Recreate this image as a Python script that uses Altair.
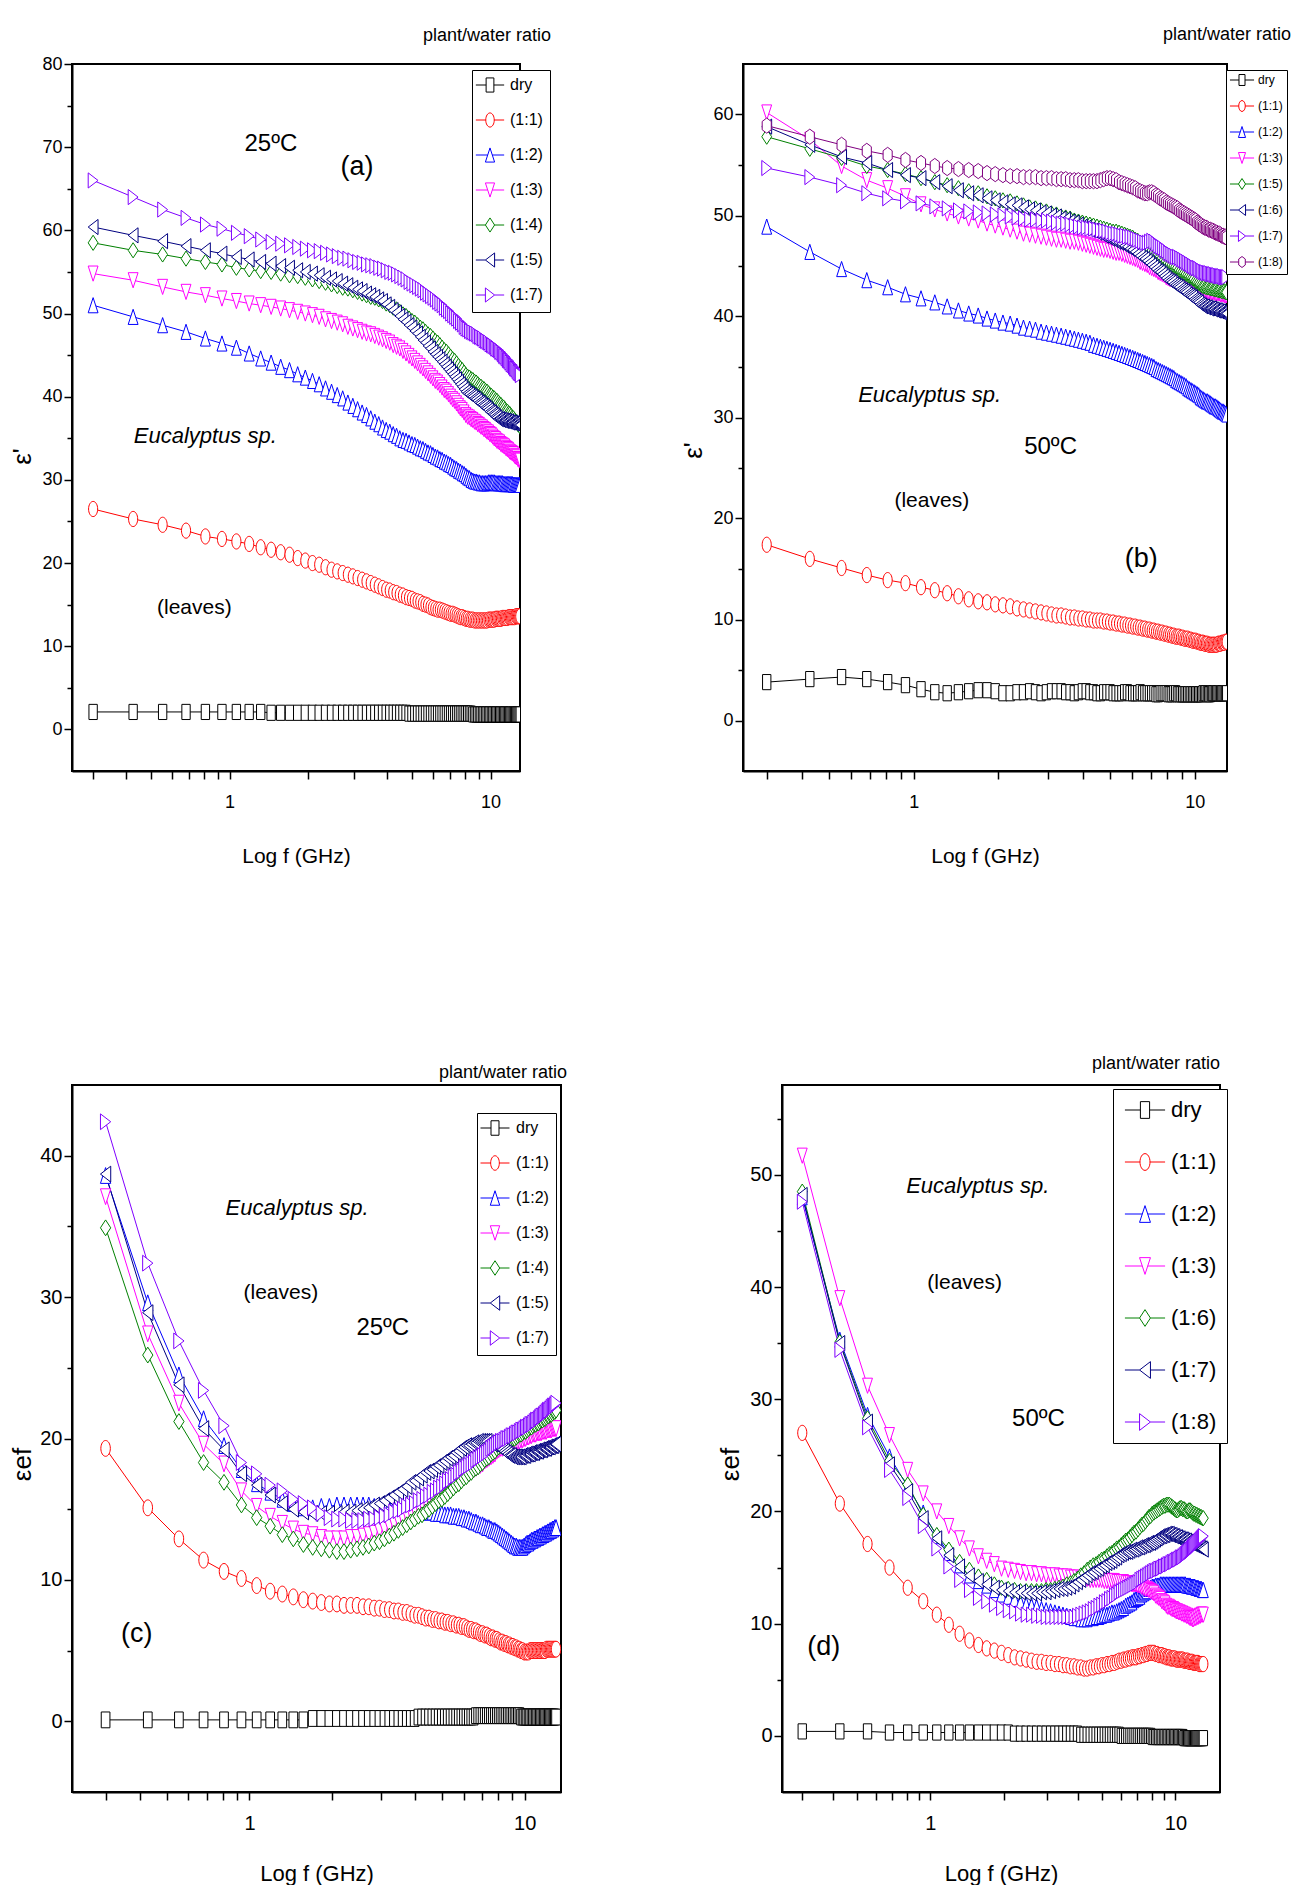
import altair as alt
import pandas as pd

FONT = "Liberation Sans Narrow, Arial Narrow, Liberation Sans, Arial, sans-serif"

# ---------------- frequency sweep (GHz) ----------------
FREQ = [
    0.300, 0.427, 0.554, 0.681, 0.808, 0.935, 1.062, 1.189, 1.316, 1.443,
    1.570, 1.697, 1.824, 1.951, 2.078, 2.205, 2.332, 2.459, 2.586, 2.713,
    2.840, 2.967, 3.094, 3.221, 3.348, 3.475, 3.602, 3.729, 3.856, 3.983,
    4.110, 4.237, 4.364, 4.491, 4.618, 4.745, 4.872, 4.999, 5.126, 5.253,
    5.380, 5.507, 5.634, 5.761, 5.888, 6.015, 6.142, 6.269, 6.396, 6.523,
    6.650, 6.777, 6.904, 7.031, 7.158, 7.285, 7.412, 7.539, 7.666, 7.793,
    7.920, 8.047, 8.174, 8.301, 8.428, 8.555, 8.682, 8.809, 8.936, 9.063,
    9.190, 9.317, 9.444, 9.571, 9.698, 9.825, 9.952, 10.079, 10.206, 10.333,
    10.460, 10.587, 10.714, 10.841, 10.968, 11.095, 11.222, 11.349, 11.476, 11.603,
    11.730, 11.857, 11.984, 12.111, 12.238, 12.365, 12.492, 12.619, 12.746, 12.873,
    13.000]

XTICKS = [0.3, 0.4, 0.5, 0.6, 0.7, 0.8, 0.9, 1, 2, 3, 4, 5, 6, 7, 8, 9, 10]

# ---------------- panel (a): eps' at 25 C ----------------
A_NAMES = ["dry", "(1:1)", "(1:2)", "(1:3)", "(1:4)", "(1:5)", "(1:7)"]
A_DRY = [
    2.1, 2.1, 2.1, 2.1, 2.1, 2.1, 2.1, 2.1, 2.1, 2.0,
    2.0, 2.0, 2.0, 2.0, 2.0, 2.0, 2.0, 2.0, 2.0, 2.0,
    2.0, 2.0, 2.0, 2.0, 2.0, 2.0, 2.0, 2.0, 2.0, 2.0,
    2.0, 2.0, 2.0, 2.0, 2.0, 2.0, 1.9, 1.9, 1.9, 1.9,
    1.9, 1.9, 1.9, 1.9, 1.9, 1.9, 1.9, 1.9, 1.9, 1.9,
    1.9, 1.9, 1.9, 1.9, 1.9, 1.9, 1.9, 1.9, 1.9, 1.9,
    1.9, 1.9, 1.9, 1.9, 1.9, 1.8, 1.8, 1.8, 1.8, 1.8,
    1.8, 1.8, 1.8, 1.8, 1.8, 1.8, 1.8, 1.8, 1.8, 1.8,
    1.8, 1.8, 1.8, 1.8, 1.8, 1.8, 1.8, 1.8, 1.8, 1.8,
    1.8, 1.8, 1.8, 1.8, 1.8, 1.8, 1.8, 1.8, 1.8, 1.8,
    1.8]
A_11 = [
    26.5, 25.3, 24.6, 23.9, 23.2, 22.9, 22.6, 22.3, 21.9, 21.6,
    21.3, 21.0, 20.6, 20.3, 20.0, 19.8, 19.5, 19.2, 19.0, 18.8,
    18.6, 18.4, 18.2, 18.0, 17.8, 17.6, 17.4, 17.2, 17.0, 16.8,
    16.7, 16.5, 16.4, 16.2, 16.1, 15.9, 15.8, 15.7, 15.5, 15.4,
    15.3, 15.1, 15.0, 14.9, 14.7, 14.6, 14.5, 14.4, 14.4, 14.3,
    14.2, 14.1, 14.0, 13.9, 13.9, 13.8, 13.7, 13.6, 13.5, 13.5,
    13.4, 13.3, 13.3, 13.2, 13.2, 13.2, 13.1, 13.1, 13.1, 13.1,
    13.1, 13.1, 13.1, 13.1, 13.1, 13.2, 13.2, 13.2, 13.2, 13.2,
    13.3, 13.3, 13.3, 13.3, 13.3, 13.4, 13.4, 13.4, 13.4, 13.4,
    13.5, 13.5, 13.5, 13.5, 13.5, 13.5, 13.6, 13.6, 13.6, 13.6,
    13.6]
A_12 = [
    51.0, 49.6, 48.6, 47.8, 47.0, 46.4, 45.9, 45.2, 44.6, 44.1,
    43.6, 43.2, 42.7, 42.3, 41.9, 41.5, 41.0, 40.6, 40.2, 39.8,
    39.3, 38.9, 38.5, 38.1, 37.8, 37.4, 37.0, 36.7, 36.3, 36.0,
    35.8, 35.5, 35.3, 35.0, 34.8, 34.7, 34.5, 34.3, 34.2, 34.0,
    33.8, 33.7, 33.5, 33.3, 33.2, 33.0, 32.8, 32.7, 32.5, 32.4,
    32.2, 32.1, 31.9, 31.8, 31.6, 31.4, 31.3, 31.1, 31.0, 30.8,
    30.7, 30.5, 30.3, 30.2, 30.0, 29.9, 29.8, 29.8, 29.7, 29.7,
    29.6, 29.6, 29.6, 29.6, 29.6, 29.7, 29.7, 29.7, 29.7, 29.7,
    29.6, 29.6, 29.6, 29.6, 29.6, 29.6, 29.5, 29.5, 29.5, 29.5,
    29.5, 29.5, 29.5, 29.5, 29.4, 29.4, 29.4, 29.4, 29.4, 29.4,
    29.4]
A_13 = [
    54.8, 54.0, 53.2, 52.6, 52.2, 51.8, 51.5, 51.2, 51.0, 50.8,
    50.6, 50.4, 50.2, 50.0, 49.8, 49.6, 49.3, 49.1, 48.9, 48.7,
    48.4, 48.2, 48.0, 47.8, 47.6, 47.5, 47.3, 47.1, 46.9, 46.7,
    46.5, 46.2, 46.0, 45.8, 45.5, 45.2, 44.9, 44.6, 44.3, 44.0,
    43.7, 43.4, 43.1, 42.8, 42.5, 42.2, 41.9, 41.7, 41.4, 41.1,
    40.8, 40.6, 40.3, 40.0, 39.7, 39.5, 39.2, 38.9, 38.6, 38.4,
    38.1, 37.8, 37.6, 37.5, 37.3, 37.2, 37.0, 36.9, 36.7, 36.6,
    36.4, 36.3, 36.1, 36.0, 35.8, 35.7, 35.5, 35.4, 35.2, 35.0,
    34.9, 34.7, 34.6, 34.5, 34.3, 34.2, 34.1, 34.0, 33.8, 33.7,
    33.6, 33.4, 33.3, 33.2, 33.1, 32.9, 32.8, 32.7, 32.5, 32.4,
    32.3]
A_14 = [
    58.5, 57.6, 57.1, 56.6, 56.2, 55.9, 55.5, 55.3, 55.1, 55.0,
    54.8, 54.6, 54.5, 54.3, 54.1, 53.9, 53.7, 53.5, 53.3, 53.1,
    53.0, 52.8, 52.6, 52.4, 52.2, 52.0, 51.9, 51.7, 51.5, 51.2,
    51.0, 50.7, 50.5, 50.2, 49.9, 49.7, 49.4, 49.1, 48.9, 48.6,
    48.3, 48.1, 47.8, 47.5, 47.3, 47.0, 46.7, 46.5, 46.2, 45.9,
    45.6, 45.4, 45.1, 44.8, 44.5, 44.3, 44.0, 43.7, 43.4, 43.2,
    42.9, 42.6, 42.4, 42.3, 42.1, 42.0, 41.8, 41.7, 41.5, 41.3,
    41.2, 41.0, 40.9, 40.7, 40.6, 40.4, 40.2, 40.1, 39.9, 39.8,
    39.6, 39.5, 39.3, 39.1, 39.0, 38.8, 38.7, 38.5, 38.3, 38.2,
    38.0, 37.9, 37.7, 37.5, 37.4, 37.2, 37.0, 36.9, 36.7, 36.6,
    36.4]
A_15 = [
    60.4, 59.4, 58.7, 58.1, 57.6, 57.2, 56.8, 56.5, 56.2, 56.0,
    55.7, 55.5, 55.2, 55.0, 54.8, 54.6, 54.3, 54.1, 53.9, 53.6,
    53.4, 53.1, 52.9, 52.7, 52.4, 52.2, 52.0, 51.7, 51.5, 51.1,
    50.8, 50.4, 50.1, 49.7, 49.3, 49.0, 48.6, 48.3, 47.9, 47.6,
    47.2, 46.8, 46.5, 46.1, 45.8, 45.4, 45.1, 44.8, 44.5, 44.2,
    43.9, 43.6, 43.3, 43.0, 42.7, 42.4, 42.1, 41.8, 41.5, 41.2,
    40.9, 40.6, 40.4, 40.3, 40.1, 40.0, 39.8, 39.7, 39.5, 39.3,
    39.2, 39.0, 38.9, 38.7, 38.6, 38.4, 38.2, 38.1, 37.9, 37.8,
    37.6, 37.5, 37.3, 37.3, 37.2, 37.2, 37.1, 37.1, 37.1, 37.0,
    37.0, 36.9, 36.9, 36.9, 36.8, 36.8, 36.8, 36.7, 36.7, 36.6,
    36.6]
A_17 = [
    66.0, 64.0, 62.5, 61.5, 60.7, 60.2, 59.7, 59.3, 58.9, 58.6,
    58.4, 58.2, 58.0, 57.8, 57.6, 57.5, 57.3, 57.1, 56.9, 56.7,
    56.6, 56.4, 56.2, 56.1, 55.9, 55.8, 55.7, 55.5, 55.4, 55.2,
    55.0, 54.9, 54.7, 54.5, 54.3, 54.1, 53.8, 53.6, 53.4, 53.2,
    53.0, 52.8, 52.5, 52.3, 52.1, 51.9, 51.7, 51.4, 51.2, 51.0,
    50.7, 50.5, 50.3, 50.0, 49.8, 49.6, 49.4, 49.1, 48.9, 48.7,
    48.4, 48.2, 48.1, 47.9, 47.8, 47.7, 47.6, 47.5, 47.3, 47.2,
    47.1, 47.0, 46.8, 46.7, 46.6, 46.5, 46.3, 46.2, 46.1, 46.0,
    45.8, 45.7, 45.6, 45.4, 45.3, 45.1, 44.9, 44.8, 44.6, 44.4,
    44.3, 44.1, 43.9, 43.8, 43.6, 43.4, 43.3, 43.1, 42.9, 42.8,
    42.6]

# ---------------- panel (b): eps' at 50 C ----------------
B_NAMES = ["dry", "(1:1)", "(1:2)", "(1:3)", "(1:5)", "(1:6)", "(1:7)", "(1:8)"]
B_DRY = [
    3.8, 4.1, 4.3, 4.1, 3.8, 3.5, 3.1, 2.8, 2.7, 2.8,
    2.9, 3.0, 3.0, 2.9, 2.7, 2.7, 2.8, 2.8, 2.9, 2.8,
    2.7, 2.8, 2.9, 2.9, 2.9, 2.8, 2.8, 2.7, 2.8, 2.9,
    2.9, 2.8, 2.8, 2.7, 2.7, 2.8, 2.8, 2.8, 2.7, 2.7,
    2.7, 2.7, 2.8, 2.8, 2.7, 2.7, 2.7, 2.7, 2.8, 2.7,
    2.7, 2.7, 2.7, 2.7, 2.7, 2.6, 2.6, 2.7, 2.7, 2.7,
    2.7, 2.6, 2.6, 2.6, 2.7, 2.7, 2.6, 2.6, 2.6, 2.6,
    2.6, 2.6, 2.6, 2.6, 2.6, 2.6, 2.6, 2.6, 2.6, 2.6,
    2.6, 2.6, 2.7, 2.7, 2.7, 2.6, 2.6, 2.6, 2.7, 2.7,
    2.7, 2.7, 2.7, 2.7, 2.7, 2.7, 2.7, 2.7, 2.7, 2.7,
    2.7]
B_11 = [
    17.4, 16.0, 15.1, 14.4, 13.9, 13.6, 13.2, 12.9, 12.6, 12.3,
    12.0, 11.8, 11.7, 11.5, 11.4, 11.3, 11.1, 11.0, 10.9, 10.8,
    10.7, 10.6, 10.5, 10.4, 10.4, 10.3, 10.2, 10.2, 10.1, 10.1,
    10.0, 10.0, 9.9, 9.9, 9.9, 9.8, 9.8, 9.7, 9.7, 9.6,
    9.6, 9.5, 9.5, 9.4, 9.4, 9.3, 9.3, 9.2, 9.2, 9.1,
    9.1, 9.0, 9.0, 8.9, 8.9, 8.8, 8.8, 8.7, 8.7, 8.6,
    8.6, 8.5, 8.5, 8.4, 8.4, 8.3, 8.3, 8.3, 8.2, 8.2,
    8.1, 8.1, 8.1, 8.0, 8.0, 7.9, 7.9, 7.9, 7.8, 7.8,
    7.7, 7.7, 7.7, 7.6, 7.6, 7.6, 7.5, 7.5, 7.5, 7.5,
    7.5, 7.5, 7.5, 7.6, 7.6, 7.6, 7.7, 7.7, 7.7, 7.8,
    7.8]
B_12 = [
    48.9, 46.4, 44.7, 43.6, 42.9, 42.2, 41.8, 41.4, 41.0, 40.6,
    40.3, 40.1, 39.8, 39.6, 39.4, 39.3, 39.1, 38.9, 38.8, 38.7,
    38.5, 38.4, 38.3, 38.2, 38.1, 38.0, 37.9, 37.8, 37.7, 37.6,
    37.5, 37.4, 37.2, 37.1, 37.0, 36.9, 36.8, 36.7, 36.6, 36.5,
    36.4, 36.3, 36.2, 36.1, 36.0, 35.9, 35.8, 35.7, 35.6, 35.5,
    35.4, 35.3, 35.2, 35.1, 35.0, 34.8, 34.7, 34.6, 34.5, 34.4,
    34.3, 34.2, 34.1, 34.0, 33.9, 33.7, 33.6, 33.5, 33.4, 33.3,
    33.2, 33.1, 32.9, 32.8, 32.7, 32.6, 32.5, 32.4, 32.3, 32.2,
    32.0, 31.9, 31.8, 31.7, 31.6, 31.6, 31.5, 31.4, 31.3, 31.2,
    31.1, 31.1, 31.0, 30.9, 30.8, 30.7, 30.6, 30.6, 30.5, 30.4,
    30.3]
B_13 = [
    60.2, 57.5, 54.9, 53.5, 52.7, 51.9, 51.1, 50.6, 50.2, 49.9,
    49.7, 49.5, 49.2, 49.0, 48.8, 48.6, 48.4, 48.2, 48.1, 48.0,
    47.9, 47.8, 47.7, 47.6, 47.6, 47.5, 47.4, 47.4, 47.3, 47.2,
    47.1, 47.0, 46.9, 46.8, 46.7, 46.6, 46.6, 46.5, 46.4, 46.3,
    46.3, 46.2, 46.1, 46.0, 45.9, 45.8, 45.7, 45.6, 45.4, 45.3,
    45.2, 45.1, 44.9, 44.8, 44.7, 44.6, 44.4, 44.3, 44.2, 44.1,
    43.9, 43.8, 43.7, 43.7, 43.6, 43.6, 43.5, 43.4, 43.4, 43.3,
    43.3, 43.2, 43.2, 43.1, 43.0, 43.0, 42.9, 42.9, 42.8, 42.8,
    42.7, 42.7, 42.6, 42.6, 42.6, 42.5, 42.5, 42.5, 42.4, 42.4,
    42.4, 42.3, 42.3, 42.3, 42.3, 42.2, 42.2, 42.2, 42.1, 42.1,
    42.1]
B_15 = [
    57.8, 56.6, 55.7, 54.9, 54.5, 54.1, 53.7, 53.3, 53.0, 52.7,
    52.4, 52.2, 51.9, 51.7, 51.5, 51.4, 51.2, 51.0, 50.8, 50.7,
    50.5, 50.4, 50.2, 50.1, 49.9, 49.8, 49.7, 49.5, 49.4, 49.3,
    49.2, 49.1, 49.0, 48.9, 48.8, 48.7, 48.6, 48.5, 48.4, 48.4,
    48.3, 48.2, 48.1, 48.0, 47.9, 47.8, 47.6, 47.5, 47.3, 47.2,
    47.0, 46.9, 46.7, 46.5, 46.4, 46.2, 46.1, 45.9, 45.8, 45.6,
    45.5, 45.3, 45.2, 45.1, 45.0, 44.9, 44.8, 44.6, 44.5, 44.4,
    44.3, 44.2, 44.1, 44.0, 43.9, 43.8, 43.7, 43.5, 43.4, 43.3,
    43.2, 43.1, 43.0, 43.0, 42.9, 42.9, 42.9, 42.8, 42.8, 42.8,
    42.7, 42.7, 42.7, 42.6, 42.6, 42.6, 42.5, 42.5, 42.5, 42.4,
    42.4]
B_16 = [
    58.8, 57.0, 55.8, 55.2, 54.5, 54.0, 53.7, 53.3, 52.9, 52.5,
    52.2, 52.0, 51.7, 51.5, 51.3, 51.1, 51.0, 50.8, 50.6, 50.5,
    50.3, 50.2, 50.0, 49.9, 49.7, 49.6, 49.4, 49.3, 49.1, 48.9,
    48.8, 48.6, 48.5, 48.3, 48.2, 48.0, 47.9, 47.7, 47.6, 47.4,
    47.3, 47.2, 47.0, 46.9, 46.7, 46.6, 46.4, 46.2, 46.0, 45.8,
    45.7, 45.5, 45.3, 45.1, 44.9, 44.7, 44.5, 44.4, 44.2, 44.0,
    43.8, 43.6, 43.5, 43.4, 43.2, 43.1, 43.0, 42.9, 42.7, 42.6,
    42.5, 42.4, 42.2, 42.1, 42.0, 41.9, 41.7, 41.6, 41.5, 41.4,
    41.2, 41.1, 41.0, 41.0, 40.9, 40.9, 40.8, 40.8, 40.8, 40.7,
    40.7, 40.6, 40.6, 40.6, 40.5, 40.5, 40.4, 40.4, 40.4, 40.3,
    40.3]
B_17 = [
    54.7, 53.8, 53.0, 52.2, 51.7, 51.4, 51.2, 50.9, 50.7, 50.5,
    50.4, 50.3, 50.2, 50.1, 50.0, 49.9, 49.8, 49.7, 49.6, 49.6,
    49.5, 49.5, 49.4, 49.3, 49.2, 49.2, 49.1, 49.0, 48.9, 48.8,
    48.8, 48.7, 48.7, 48.6, 48.5, 48.5, 48.4, 48.3, 48.2, 48.2,
    48.1, 48.0, 48.0, 47.9, 47.9, 47.8, 47.7, 47.6, 47.5, 47.4,
    47.3, 47.3, 47.4, 47.5, 47.4, 47.2, 47.0, 46.9, 46.8, 46.6,
    46.5, 46.3, 46.2, 46.1, 46.0, 45.9, 45.9, 45.8, 45.7, 45.6,
    45.5, 45.4, 45.3, 45.2, 45.1, 45.0, 44.9, 44.8, 44.8, 44.7,
    44.6, 44.5, 44.4, 44.4, 44.3, 44.3, 44.3, 44.2, 44.2, 44.2,
    44.1, 44.1, 44.1, 44.0, 44.0, 44.0, 44.0, 43.9, 43.9, 43.9,
    43.9]
B_18 = [
    58.9, 57.8, 57.0, 56.4, 56.0, 55.5, 55.2, 54.9, 54.7, 54.6,
    54.5, 54.4, 54.2, 54.1, 54.0, 53.9, 53.9, 53.8, 53.8, 53.8,
    53.7, 53.7, 53.7, 53.6, 53.6, 53.6, 53.5, 53.5, 53.5, 53.4,
    53.4, 53.4, 53.4, 53.4, 53.5, 53.6, 53.7, 53.7, 53.6, 53.5,
    53.3, 53.2, 53.1, 53.0, 52.9, 52.8, 52.7, 52.5, 52.4, 52.3,
    52.2, 52.2, 52.3, 52.3, 52.2, 52.0, 51.9, 51.7, 51.6, 51.5,
    51.3, 51.2, 51.1, 51.0, 50.9, 50.8, 50.7, 50.5, 50.4, 50.3,
    50.2, 50.1, 50.0, 49.9, 49.8, 49.7, 49.6, 49.5, 49.3, 49.2,
    49.1, 49.0, 48.9, 48.8, 48.8, 48.7, 48.6, 48.6, 48.5, 48.5,
    48.4, 48.3, 48.3, 48.2, 48.2, 48.1, 48.0, 48.0, 47.9, 47.9,
    47.8]

# ---------------- panel (c): eps_ef at 25 C ----------------
C_NAMES = ["dry", "(1:1)", "(1:2)", "(1:3)", "(1:4)", "(1:5)", "(1:7)"]
C_DRY = [
    0.1, 0.1, 0.1, 0.1, 0.1, 0.1, 0.1, 0.1, 0.1, 0.1,
    0.1, 0.2, 0.2, 0.2, 0.2, 0.2, 0.2, 0.2, 0.2, 0.2,
    0.2, 0.2, 0.2, 0.2, 0.2, 0.2, 0.2, 0.2, 0.2, 0.2,
    0.3, 0.3, 0.3, 0.3, 0.3, 0.3, 0.3, 0.3, 0.3, 0.3,
    0.3, 0.3, 0.3, 0.3, 0.3, 0.3, 0.3, 0.3, 0.3, 0.3,
    0.4, 0.4, 0.4, 0.4, 0.4, 0.4, 0.4, 0.4, 0.4, 0.4,
    0.4, 0.4, 0.4, 0.4, 0.4, 0.4, 0.4, 0.4, 0.4, 0.4,
    0.4, 0.4, 0.4, 0.4, 0.3, 0.3, 0.3, 0.3, 0.3, 0.3,
    0.3, 0.3, 0.3, 0.3, 0.3, 0.3, 0.3, 0.3, 0.3, 0.3,
    0.3, 0.3, 0.3, 0.3, 0.3, 0.3, 0.3, 0.3, 0.3, 0.3,
    0.3]
C_11 = [
    19.3, 15.1, 12.9, 11.4, 10.6, 10.1, 9.6, 9.2, 9.0, 8.8,
    8.6, 8.5, 8.4, 8.3, 8.3, 8.2, 8.2, 8.2, 8.1, 8.1,
    8.0, 8.0, 7.9, 7.9, 7.8, 7.8, 7.7, 7.7, 7.6, 7.5,
    7.5, 7.4, 7.3, 7.3, 7.2, 7.2, 7.1, 7.1, 7.0, 7.0,
    6.9, 6.9, 6.8, 6.8, 6.7, 6.7, 6.6, 6.5, 6.5, 6.4,
    6.4, 6.3, 6.2, 6.2, 6.1, 6.1, 6.0, 5.9, 5.9, 5.8,
    5.8, 5.7, 5.6, 5.6, 5.5, 5.5, 5.4, 5.4, 5.3, 5.3,
    5.2, 5.2, 5.1, 5.1, 5.0, 5.0, 4.9, 4.9, 4.9, 4.9,
    5.0, 5.0, 5.0, 5.0, 5.0, 5.0, 5.0, 5.0, 5.0, 5.0,
    5.0, 5.0, 5.1, 5.1, 5.1, 5.1, 5.1, 5.1, 5.1, 5.1,
    5.1]
C_12 = [
    38.6, 29.6, 24.5, 21.4, 19.5, 17.8, 16.8, 16.2, 15.7, 15.4,
    15.1, 15.1, 15.2, 15.2, 15.3, 15.3, 15.3, 15.3, 15.3, 15.3,
    15.2, 15.2, 15.2, 15.1, 15.1, 15.0, 15.0, 14.9, 14.9, 14.9,
    14.8, 14.8, 14.8, 14.8, 14.8, 14.7, 14.7, 14.7, 14.6, 14.6,
    14.6, 14.5, 14.5, 14.5, 14.4, 14.4, 14.3, 14.3, 14.2, 14.1,
    14.1, 14.0, 13.9, 13.9, 13.8, 13.7, 13.7, 13.6, 13.5, 13.5,
    13.4, 13.3, 13.2, 13.1, 13.0, 12.9, 12.8, 12.7, 12.6, 12.5,
    12.4, 12.4, 12.3, 12.3, 12.3, 12.3, 12.4, 12.5, 12.6, 12.6,
    12.7, 12.8, 12.8, 12.9, 12.9, 13.0, 13.0, 13.1, 13.1, 13.2,
    13.2, 13.3, 13.3, 13.4, 13.4, 13.5, 13.5, 13.6, 13.6, 13.7,
    13.7]
C_13 = [
    37.1, 27.4, 22.5, 19.6, 18.2, 16.3, 15.2, 14.5, 14.0, 13.6,
    13.3, 13.2, 13.0, 12.9, 12.9, 12.9, 13.0, 13.0, 13.1, 13.2,
    13.3, 13.5, 13.6, 13.8, 14.0, 14.2, 14.4, 14.6, 14.8, 15.0,
    15.2, 15.4, 15.6, 15.8, 15.9, 16.1, 16.2, 16.3, 16.4, 16.6,
    16.7, 16.8, 16.9, 17.1, 17.2, 17.3, 17.4, 17.5, 17.7, 17.8,
    17.9, 18.0, 18.1, 18.2, 18.4, 18.5, 18.6, 18.7, 18.8, 18.9,
    19.1, 19.2, 19.3, 19.3, 19.4, 19.4, 19.5, 19.5, 19.6, 19.6,
    19.7, 19.7, 19.8, 19.8, 19.9, 19.9, 20.0, 20.0, 20.1, 20.1,
    20.2, 20.2, 20.3, 20.3, 20.3, 20.4, 20.4, 20.4, 20.4, 20.5,
    20.5, 20.5, 20.5, 20.6, 20.6, 20.6, 20.6, 20.7, 20.7, 20.7,
    20.7]
C_14 = [
    34.9, 25.9, 21.2, 18.3, 16.9, 15.3, 14.4, 13.8, 13.2, 12.9,
    12.5, 12.3, 12.2, 12.1, 12.0, 12.0, 12.1, 12.2, 12.3, 12.4,
    12.6, 12.7, 12.9, 13.1, 13.3, 13.5, 13.7, 13.9, 14.1, 14.3,
    14.5, 14.6, 14.8, 15.0, 15.2, 15.4, 15.6, 15.7, 15.9, 16.1,
    16.3, 16.5, 16.7, 16.8, 17.0, 17.2, 17.3, 17.5, 17.6, 17.8,
    17.9, 18.0, 18.2, 18.3, 18.5, 18.6, 18.7, 18.9, 19.0, 19.1,
    19.3, 19.4, 19.5, 19.5, 19.6, 19.7, 19.8, 19.8, 19.9, 20.0,
    20.0, 20.1, 20.2, 20.3, 20.3, 20.4, 20.5, 20.5, 20.6, 20.7,
    20.8, 20.8, 20.9, 21.0, 21.0, 21.1, 21.1, 21.2, 21.3, 21.3,
    21.4, 21.4, 21.5, 21.6, 21.6, 21.7, 21.7, 21.8, 21.9, 21.9,
    22.0]
C_15 = [
    38.7, 28.9, 23.8, 20.7, 19.2, 17.5, 16.7, 16.0, 15.4, 15.0,
    14.8, 14.7, 14.7, 14.7, 14.7, 14.8, 14.8, 14.9, 15.0, 15.1,
    15.3, 15.4, 15.6, 15.8, 16.0, 16.2, 16.4, 16.6, 16.9, 17.0,
    17.2, 17.4, 17.6, 17.7, 17.8, 18.0, 18.1, 18.3, 18.4, 18.6,
    18.7, 18.8, 19.0, 19.1, 19.3, 19.4, 19.5, 19.5, 19.6, 19.7,
    19.7, 19.8, 19.8, 19.8, 19.8, 19.8, 19.7, 19.7, 19.6, 19.6,
    19.5, 19.4, 19.3, 19.2, 19.1, 19.0, 18.9, 18.8, 18.8, 18.7,
    18.7, 18.7, 18.7, 18.7, 18.7, 18.8, 18.8, 18.8, 18.9, 18.9,
    18.9, 19.0, 19.0, 19.0, 19.1, 19.1, 19.1, 19.2, 19.2, 19.2,
    19.3, 19.3, 19.3, 19.4, 19.4, 19.4, 19.5, 19.5, 19.5, 19.6,
    19.6]
C_17 = [
    42.4, 32.4, 26.9, 23.4, 20.9, 18.3, 17.5, 16.7, 16.3, 15.7,
    15.4, 15.1, 14.7, 14.4, 14.3, 14.3, 14.2, 14.2, 14.2, 14.3,
    14.3, 14.4, 14.5, 14.6, 14.8, 14.9, 15.0, 15.2, 15.3, 15.4,
    15.6, 15.7, 15.9, 16.0, 16.2, 16.3, 16.5, 16.6, 16.8, 17.0,
    17.1, 17.3, 17.4, 17.6, 17.7, 17.9, 18.0, 18.1, 18.2, 18.3,
    18.5, 18.6, 18.7, 18.8, 18.9, 19.0, 19.1, 19.3, 19.4, 19.5,
    19.6, 19.7, 19.8, 19.8, 19.9, 20.0, 20.0, 20.1, 20.2, 20.2,
    20.3, 20.4, 20.4, 20.5, 20.6, 20.6, 20.7, 20.8, 20.8, 20.9,
    21.0, 21.0, 21.1, 21.2, 21.3, 21.3, 21.4, 21.5, 21.6, 21.6,
    21.7, 21.8, 21.9, 22.0, 22.0, 22.1, 22.2, 22.3, 22.3, 22.4,
    22.5]

# ---------------- panel (d): eps_ef at 50 C ----------------
D_NAMES = ["dry", "(1:1)", "(1:2)", "(1:3)", "(1:6)", "(1:7)", "(1:8)"]
D_DRY = [
    0.4, 0.4, 0.4, 0.3, 0.3, 0.3, 0.3, 0.3, 0.3, 0.3,
    0.3, 0.3, 0.3, 0.3, 0.3, 0.2, 0.2, 0.2, 0.2, 0.2,
    0.2, 0.2, 0.2, 0.2, 0.2, 0.2, 0.2, 0.2, 0.2, 0.2,
    0.1, 0.1, 0.1, 0.1, 0.1, 0.1, 0.1, 0.1, 0.1, 0.1,
    0.1, 0.1, 0.1, 0.1, 0.1, 0.0, 0.0, 0.0, 0.0, 0.0,
    0.0, 0.0, 0.0, 0.0, 0.0, 0.0, 0.0, 0.0, 0.0, 0.0,
    0.0, -0.1, -0.1, -0.1, -0.1, -0.1, -0.1, -0.1, -0.1, -0.1,
    -0.1, -0.1, -0.1, -0.1, -0.1, -0.1, -0.1, -0.1, -0.1, -0.1,
    -0.1, -0.1, -0.1, -0.2, -0.2, -0.2, -0.2, -0.2, -0.2, -0.2,
    -0.2, -0.2, -0.2, -0.2, -0.2, -0.2, -0.2, -0.2, -0.2, -0.2,
    -0.2]
D_11 = [
    27.0, 20.7, 17.1, 15.0, 13.2, 12.0, 10.8, 9.9, 9.1, 8.5,
    8.1, 7.8, 7.6, 7.4, 7.2, 7.0, 6.9, 6.8, 6.7, 6.6,
    6.6, 6.5, 6.5, 6.4, 6.4, 6.3, 6.3, 6.2, 6.2, 6.1,
    6.1, 6.0, 6.0, 6.1, 6.1, 6.2, 6.2, 6.3, 6.3, 6.4,
    6.4, 6.5, 6.5, 6.6, 6.7, 6.7, 6.8, 6.8, 6.9, 6.9,
    7.0, 7.0, 7.0, 7.1, 7.1, 7.2, 7.2, 7.3, 7.3, 7.4,
    7.4, 7.4, 7.4, 7.3, 7.3, 7.2, 7.2, 7.2, 7.1, 7.1,
    7.0, 7.0, 7.0, 6.9, 6.9, 6.9, 6.9, 6.8, 6.8, 6.8,
    6.8, 6.8, 6.8, 6.7, 6.7, 6.7, 6.7, 6.6, 6.6, 6.6,
    6.6, 6.5, 6.5, 6.5, 6.5, 6.5, 6.4, 6.4, 6.4, 6.4,
    6.4]
D_12 = [
    48.0, 35.3, 28.6, 24.9, 22.2, 19.9, 17.8, 16.3, 15.2, 14.3,
    13.8, 13.4, 13.0, 12.6, 12.4, 12.2, 11.9, 11.7, 11.6, 11.5,
    11.3, 11.2, 11.1, 11.0, 10.9, 10.8, 10.7, 10.6, 10.5, 10.5,
    10.4, 10.4, 10.4, 10.5, 10.5, 10.6, 10.6, 10.7, 10.8, 10.8,
    10.9, 11.0, 11.0, 11.1, 11.2, 11.3, 11.4, 11.6, 11.7, 11.8,
    11.9, 12.1, 12.2, 12.3, 12.4, 12.6, 12.7, 12.8, 12.9, 13.1,
    13.2, 13.3, 13.3, 13.4, 13.4, 13.4, 13.5, 13.5, 13.5, 13.5,
    13.5, 13.5, 13.5, 13.5, 13.5, 13.5, 13.5, 13.5, 13.5, 13.5,
    13.5, 13.5, 13.5, 13.5, 13.5, 13.4, 13.4, 13.4, 13.4, 13.3,
    13.3, 13.3, 13.3, 13.2, 13.2, 13.2, 13.1, 13.1, 13.1, 13.0,
    13.0]
D_13 = [
    51.7, 39.0, 31.2, 26.8, 23.7, 21.6, 20.0, 18.7, 17.6, 16.7,
    16.0, 15.6, 15.3, 14.9, 14.8, 14.7, 14.6, 14.5, 14.5, 14.4,
    14.4, 14.3, 14.3, 14.3, 14.2, 14.2, 14.2, 14.1, 14.1, 14.1,
    14.0, 14.0, 14.0, 13.9, 13.9, 13.9, 13.9, 13.9, 13.8, 13.8,
    13.8, 13.8, 13.8, 13.7, 13.7, 13.7, 13.7, 13.6, 13.6, 13.6,
    13.5, 13.5, 13.5, 13.4, 13.4, 13.3, 13.2, 13.1, 13.1, 13.0,
    12.9, 12.8, 12.7, 12.5, 12.4, 12.3, 12.2, 12.0, 11.9, 11.8,
    11.6, 11.5, 11.5, 11.4, 11.3, 11.3, 11.2, 11.1, 11.1, 11.0,
    11.0, 10.9, 10.9, 10.8, 10.8, 10.7, 10.7, 10.6, 10.5, 10.5,
    10.4, 10.4, 10.5, 10.5, 10.6, 10.6, 10.7, 10.7, 10.8, 10.8,
    10.8]
D_16 = [
    48.5, 35.1, 28.3, 24.5, 22.4, 19.7, 17.9, 16.6, 15.5, 14.8,
    14.2, 13.9, 13.5, 13.2, 13.1, 13.0, 12.9, 12.9, 12.9, 12.9,
    12.9, 13.0, 13.0, 13.1, 13.2, 13.3, 13.5, 13.6, 13.8, 14.0,
    14.3, 14.5, 14.8, 15.0, 15.2, 15.3, 15.5, 15.7, 15.8, 16.0,
    16.2, 16.3, 16.5, 16.7, 16.8, 17.0, 17.2, 17.4, 17.5, 17.7,
    17.9, 18.1, 18.2, 18.4, 18.6, 18.8, 18.9, 19.1, 19.3, 19.5,
    19.6, 19.8, 19.9, 20.0, 20.1, 20.2, 20.3, 20.4, 20.5, 20.5,
    20.6, 20.6, 20.6, 20.5, 20.4, 20.3, 20.2, 20.1, 20.1, 20.2,
    20.3, 20.3, 20.2, 20.2, 20.1, 20.0, 20.0, 20.1, 20.1, 20.0,
    19.9, 19.8, 19.8, 19.7, 19.7, 19.6, 19.6, 19.5, 19.5, 19.4,
    19.4]
D_17 = [
    48.2, 35.0, 28.0, 24.2, 21.8, 19.4, 17.6, 16.1, 15.1, 14.3,
    13.8, 13.5, 13.2, 13.0, 12.9, 12.8, 12.8, 12.7, 12.7, 12.7,
    12.8, 12.8, 12.9, 13.0, 13.1, 13.1, 13.2, 13.3, 13.5, 13.7,
    13.9, 14.1, 14.3, 14.5, 14.6, 14.8, 14.9, 15.1, 15.2, 15.4,
    15.5, 15.6, 15.8, 15.9, 16.1, 16.2, 16.3, 16.4, 16.4, 16.5,
    16.6, 16.6, 16.7, 16.8, 16.8, 16.9, 17.0, 17.0, 17.1, 17.2,
    17.2, 17.3, 17.4, 17.5, 17.6, 17.7, 17.8, 17.8, 17.9, 17.9,
    18.0, 18.0, 18.0, 17.9, 17.9, 17.8, 17.8, 17.7, 17.7, 17.6,
    17.6, 17.5, 17.5, 17.5, 17.4, 17.4, 17.3, 17.3, 17.2, 17.2,
    17.1, 17.1, 17.0, 17.0, 16.9, 16.9, 16.8, 16.8, 16.7, 16.7,
    16.6]
D_18 = [
    47.6, 34.4, 27.5, 23.7, 21.2, 18.7, 16.7, 15.1, 13.9, 13.0,
    12.3, 12.0, 11.7, 11.4, 11.2, 11.1, 10.9, 10.8, 10.8, 10.7,
    10.7, 10.6, 10.6, 10.6, 10.6, 10.6, 10.6, 10.6, 10.6, 10.7,
    10.8, 10.9, 11.0, 11.1, 11.3, 11.4, 11.6, 11.7, 11.9, 12.0,
    12.2, 12.3, 12.5, 12.6, 12.8, 12.9, 13.0, 13.1, 13.2, 13.3,
    13.4, 13.5, 13.6, 13.7, 13.9, 14.0, 14.1, 14.2, 14.3, 14.4,
    14.5, 14.6, 14.7, 14.7, 14.8, 14.9, 14.9, 15.0, 15.1, 15.1,
    15.2, 15.3, 15.3, 15.4, 15.5, 15.5, 15.6, 15.7, 15.7, 15.8,
    15.9, 15.9, 16.0, 16.1, 16.2, 16.3, 16.4, 16.5, 16.6, 16.7,
    16.8, 16.9, 17.0, 17.1, 17.2, 17.3, 17.4, 17.5, 17.6, 17.7,
    17.8]

# ---------------- annotations (text, freq, value) ----------------
A_NOTES = [("25ºC", 1.44, 70.4), ("(a)", 3.08, 67.6), ("(leaves)", 0.733, 14.6)]
A_ITAL = [("Eucalyptus sp.", 0.807, 35.3)]
B_NOTES = [("50ºC", 3.07, 27.1), ("(leaves)", 1.16, 21.7), ("(b)", 6.46, 16.0)]
B_ITAL = [("Eucalyptus sp.", 1.14, 32.2)]
C_NOTES = [("(leaves)", 1.30, 30.3), ("25ºC", 3.05, 27.8), ("(c)", 0.389, 6.2)]
C_ITAL = [("Eucalyptus sp.", 1.49, 36.3)]
D_NOTES = [("(leaves)", 1.38, 40.4), ("50ºC", 2.76, 28.2), ("(d)", 0.367, 7.9)]
D_ITAL = [("Eucalyptus sp.", 1.56, 49.0)]

# ---------------- styles ----------------
BLACK, RED, BLUE, MAG = "#000000", "#FF0000", "#0000FF", "#FF00FF"
GREEN, NAVY, VIOLET, PURPLE = "#008000", "#000080", "#8000FF", "#800080"

# (marker path, half-width of the marker at its mid-height)
SQ = ("M-0.55,-1L0.55,-1L0.55,1L-0.55,1Z", 0.55)
CI = ("M0,-1A0.6,1,0,1,1,0,1A0.6,1,0,1,1,0,-1Z", 0.6)
TU = ("M0,-1L0.65,1L-0.65,1Z", 0.33)
TD = ("M0,1L0.65,-1L-0.65,-1Z", 0.33)
DI = ("M0,-1L0.65,0L0,1L-0.65,0Z", 0.65)
TL = ("M-0.65,0L0.65,-1L0.65,1Z", 0.65)
TR = ("M0.65,0L-0.65,-1L-0.65,1Z", 0.65)
HX = ("M0,-1L0.6,-0.55L0.6,0.55L0,1L-0.6,0.55L-0.6,-0.55Z", 0.6)


def with_stubs(shape, ext):
    path, inner = shape
    return "M%g,0L%g,0M%g,0L%g,0%s" % (-ext, -inner, inner, ext, path)


def note_size(t):
    if t.startswith("(") and len(t) == 3:
        return 27
    if "C" in t:
        return 24
    return 21


def make_panel(names, series, colors, shapes, xdom, ydom, yticks, w, h,
               ytitle, ytitle_y, ytitle_pad, lab_fs, tit_fs, lab_pad_x, tit_pad_x,
               leg, stub, ttl, notes, ital, mk):
    rows = []
    for k, (nm, vals) in enumerate(zip(names, series)):
        for i, (f, v) in enumerate(zip(FREQ, vals)):
            rows.append({"f": f, "v": v, "s": nm})
    df = pd.DataFrame(rows)

    xax = alt.Axis(values=XTICKS,
                   labelExpr="(datum.value == 1 || datum.value == 10) ? '' + datum.value : ''",
                   title="Log f (GHz)", tickSize=8, labelFontSize=lab_fs,
                   titleFontSize=tit_fs, labelPadding=lab_pad_x,
                   titlePadding=tit_pad_x, labelOverlap=False, labelFlush=False)
    yax = alt.Axis(values=yticks,
                   labelExpr="datum.value % 10 == 0 ? '' + datum.value : ''",
                   title=ytitle,
                   tickSize={"condition": {"test": "datum.value % 10 == 0", "value": 8}, "value": 5},
                   labelFontSize=lab_fs, titleFontSize=26, labelPadding=2,
                   titlePadding=ytitle_pad, titleY=ytitle_y, labelOverlap=False)
    x = alt.X("f:Q", scale=alt.Scale(type="log", domain=xdom, nice=False), axis=xax)
    y = alt.Y("v:Q", scale=alt.Scale(domain=ydom, nice=False, zero=False), axis=yax)
    cs = alt.Scale(domain=names, range=colors)
    ss = alt.Scale(domain=names, range=[with_stubs(s, stub) for s in shapes])
    legend = alt.Legend(title=None, orient="none", strokeColor="black",
                        fillColor="white", symbolStrokeWidth=1,
                        symbolFillColor="white", symbolOpacity=1,
                        labelColor="black", labelFont=FONT, **leg)
    col = alt.Color("s:N", scale=cs, legend=legend)

    layers = [alt.Chart(df).mark_line(strokeWidth=1, clip=True).encode(
        x=x, y=y, color=col)]
    for nm, shp in zip(names, shapes):
        layers.append(
            alt.Chart(df).transform_filter(alt.datum.s == nm).mark_point(
                shape=shp[0], filled=False, opacity=1, strokeWidth=1,
                size=mk, clip=True).encode(
                x=x, y=y, color=col, fill=alt.value("white")))
    # legend carrier (draws nothing, only feeds the legend symbols)
    layers.append(
        alt.Chart(df).transform_filter("false").mark_point(
            filled=False, opacity=1, strokeWidth=1).encode(
            x=x, y=y, color=col,
            shape=alt.Shape("s:N", scale=ss, legend=legend)))

    ndf = pd.DataFrame({"t": [n[0] for n in notes], "f": [n[1] for n in notes],
                        "v": [n[2] for n in notes],
                        "fs": [note_size(n[0]) for n in notes]})
    idf = pd.DataFrame({"t": [n[0] for n in ital], "f": [n[1] for n in ital],
                        "v": [n[2] for n in ital]})
    layers.append(alt.Chart(ndf).mark_text(font=FONT, color="black").encode(
        x=x, y=y, text="t:N", size=alt.Size("fs:Q", scale=None)))
    layers.append(alt.Chart(idf).mark_text(font=FONT, fontStyle="italic", fontSize=22,
                                           color="black").encode(x=x, y=y, text="t:N"))
    return alt.layer(*layers).properties(
        width=w, height=h,
        title=alt.TitleParams("plant/water ratio", anchor="end", frame="group",
                              font=FONT, fontSize=18, fontWeight="normal",
                              color="black", **ttl))


pa = make_panel(A_NAMES, [A_DRY, A_11, A_12, A_13, A_14, A_15, A_17],
                [BLACK, RED, BLUE, MAG, GREEN, NAVY, VIOLET],
                [SQ, CI, TU, TD, DI, TL, TR],
                [0.249, 12.97], [-5, 80], list(range(0, 81, 5)), 448, 707,
                "ε'", 392, 6, 18, 21, 14, 34,
                dict(legendX=400, legendY=6, padding=7, rowPadding=15,
                     symbolSize=200, labelFontSize=16, symbolOffset=3, labelOffset=12),
                2.0, dict(dx=31, offset=10), A_NOTES, A_ITAL, 230)

pb = make_panel(B_NAMES, [B_DRY, B_11, B_12, B_13, B_15, B_16, B_17, B_18],
                [BLACK, RED, BLUE, MAG, GREEN, NAVY, VIOLET, PURPLE],
                [SQ, CI, TU, TD, DI, TL, TR, HX],
                [0.247, 13.03], [-5, 65], list(range(0, 61, 5)), 484, 707,
                "ε'", 386, 6, 18, 21, 14, 34,
                dict(legendX=483, legendY=6, padding=4, rowPadding=10,
                     symbolSize=120, labelFontSize=12, symbolOffset=6, labelOffset=10),
                2.2, dict(dx=64, offset=20), B_NOTES, B_ITAL, 230)

pc = make_panel(C_NAMES, [C_DRY, C_11, C_12, C_13, C_14, C_15, C_17],
                [BLACK, RED, BLUE, MAG, GREEN, NAVY, VIOLET],
                [SQ, CI, TU, TD, DI, TL, TR],
                [0.2265, 13.55], [-5, 45], list(range(0, 41, 5)), 489, 707,
                "εef", 379, 4, 20, 22, 13, 30,
                dict(legendX=405, legendY=28, padding=7, rowPadding=15,
                     symbolSize=210, labelFontSize=16, symbolOffset=3, labelOffset=13),
                2.0, dict(dx=6, offset=3), C_NOTES, C_ITAL, 250)

pd_ = make_panel(D_NAMES, [D_DRY, D_11, D_12, D_13, D_16, D_17, D_18],
                 [BLACK, RED, BLUE, MAG, GREEN, NAVY, VIOLET],
                 [SQ, CI, TU, TD, DI, TL, TR],
                 [0.248, 15.2], [-5, 58], list(range(0, 56, 5)), 438, 707,
                 "εef", 379, 6, 20, 22, 13, 30,
                 dict(legendX=331, legendY=4, padding=10, rowPadding=30,
                      symbolSize=280, labelFontSize=22, symbolOffset=11, labelOffset=15),
                 2.4, dict(dx=0, offset=12), D_NOTES, D_ITAL, 230)

IND = dict(x="independent", y="independent", color="independent", shape="independent")

row1 = alt.hconcat(pa, pb, spacing=223, bounds="flush").resolve_scale(**IND)
row2 = alt.hconcat(pc, pd_, spacing=221, bounds="flush").resolve_scale(**IND)

chart = alt.vconcat(row1, row2, spacing=187).resolve_scale(**IND).properties(
    padding={"left": 8, "top": 25, "right": 2, "bottom": 0},
    background="white"
).configure_view(
    stroke="black", strokeWidth=2
).configure_axis(
    labelFont=FONT, titleFont=FONT, labelColor="black", titleColor="black",
    domainColor="black", tickColor="black", domainWidth=2, tickWidth=1.5,
    grid=False, titleFontWeight="normal"
)

chart.save("out.html", embed_options={"renderer": "svg", "actions": False})
